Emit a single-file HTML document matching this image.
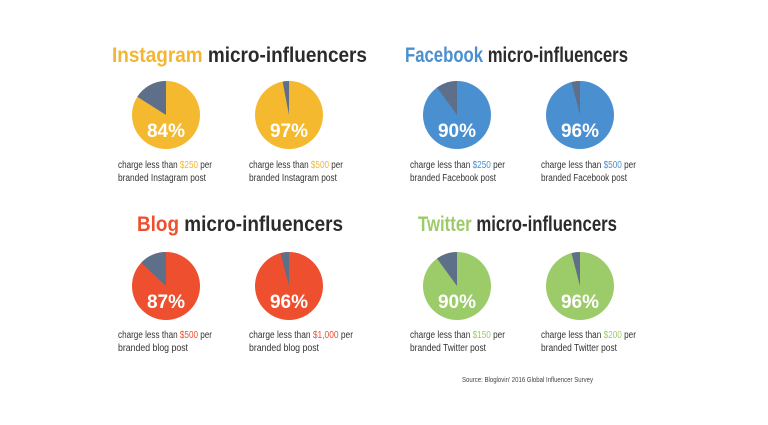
<!DOCTYPE html><html><head><style>body{margin:0;background:#fff}</style></head><body>
<svg width="768" height="420" xmlns="http://www.w3.org/2000/svg" font-family="Liberation Sans, sans-serif">
<rect width="768" height="420" fill="#fff"/>
<g font-weight="bold" font-size="21" lengthAdjust="spacingAndGlyphs">
<text x="112" y="62" textLength="255" lengthAdjust="spacingAndGlyphs"><tspan fill="#F2B632">Instagram</tspan><tspan fill="#2b2b2b"> micro-influencers</tspan></text>
<text x="405" y="62" textLength="223" lengthAdjust="spacingAndGlyphs"><tspan fill="#4A8FD0">Facebook</tspan><tspan fill="#2b2b2b"> micro-influencers</tspan></text>
<text x="137" y="231" textLength="206" lengthAdjust="spacingAndGlyphs"><tspan fill="#EE4F2E">Blog</tspan><tspan fill="#2b2b2b"> micro-influencers</tspan></text>
<text x="418" y="231" textLength="199" lengthAdjust="spacingAndGlyphs"><tspan fill="#9CCB6A">Twitter</tspan><tspan fill="#2b2b2b"> micro-influencers</tspan></text>
</g>
<g font-weight="bold" font-size="19" fill="#fff" text-anchor="middle">
<g transform="translate(166,115)"><circle r="34" fill="#F4B92E"/><path d="M0 0L0 -34A34 34 0 0 0 -28.7 -18.2Z" fill="#5E7089"/><text y="22">84%</text></g>
<g transform="translate(289,115)"><circle r="34" fill="#F4B92E"/><path d="M0 0L0 -34A34 34 0 0 0 -6.4 -33.4Z" fill="#5E7089"/><text y="22">97%</text></g>
<g transform="translate(457,115)"><circle r="34" fill="#4A8FD0"/><path d="M0 0L0 -34A34 34 0 0 0 -20 -27.5Z" fill="#5E7089"/><text y="22">90%</text></g>
<g transform="translate(580,115)"><circle r="34" fill="#4A8FD0"/><path d="M0 0L0 -34A34 34 0 0 0 -8.5 -32.9Z" fill="#5E7089"/><text y="22">96%</text></g>
<g transform="translate(166,286)"><circle r="34" fill="#EE4F2E"/><path d="M0 0L0 -34A34 34 0 0 0 -24.8 -23.3Z" fill="#5E7089"/><text y="22">87%</text></g>
<g transform="translate(289,286)"><circle r="34" fill="#EE4F2E"/><path d="M0 0L0 -34A34 34 0 0 0 -8.5 -32.9Z" fill="#5E7089"/><text y="22">96%</text></g>
<g transform="translate(457,286)"><circle r="34" fill="#9CCB6A"/><path d="M0 0L0 -34A34 34 0 0 0 -20 -27.5Z" fill="#5E7089"/><text y="22">90%</text></g>
<g transform="translate(580,286)"><circle r="34" fill="#9CCB6A"/><path d="M0 0L0 -34A34 34 0 0 0 -8.5 -32.9Z" fill="#5E7089"/><text y="22">96%</text></g>
</g>
<g font-size="10" fill="#333">
<text x="118" y="168" textLength="94" lengthAdjust="spacingAndGlyphs">charge less than <tspan fill="#F2B632">$250</tspan> per</text><text x="118" y="181" textLength="88" lengthAdjust="spacingAndGlyphs">branded Instagram post</text>
<text x="249" y="168" textLength="94" lengthAdjust="spacingAndGlyphs">charge less than <tspan fill="#F2B632">$500</tspan> per</text><text x="249" y="181" textLength="88" lengthAdjust="spacingAndGlyphs">branded Instagram post</text>
<text x="410" y="168" textLength="95" lengthAdjust="spacingAndGlyphs">charge less than <tspan fill="#4A8FD0">$250</tspan> per</text><text x="410" y="181" textLength="86" lengthAdjust="spacingAndGlyphs">branded Facebook post</text>
<text x="541" y="168" textLength="95" lengthAdjust="spacingAndGlyphs">charge less than <tspan fill="#4A8FD0">$500</tspan> per</text><text x="541" y="181" textLength="86" lengthAdjust="spacingAndGlyphs">branded Facebook post</text>
<text x="118" y="338" textLength="94" lengthAdjust="spacingAndGlyphs">charge less than <tspan fill="#EE4F2E">$500</tspan> per</text><text x="118" y="351" textLength="70" lengthAdjust="spacingAndGlyphs">branded blog post</text>
<text x="249" y="338" textLength="104" lengthAdjust="spacingAndGlyphs">charge less than <tspan fill="#EE4F2E">$1,000</tspan> per</text><text x="249" y="351" textLength="70" lengthAdjust="spacingAndGlyphs">branded blog post</text>
<text x="410" y="338" textLength="95" lengthAdjust="spacingAndGlyphs">charge less than <tspan fill="#9CCB6A">$150</tspan> per</text><text x="410" y="351" textLength="76" lengthAdjust="spacingAndGlyphs">branded Twitter post</text>
<text x="541" y="338" textLength="95" lengthAdjust="spacingAndGlyphs">charge less than <tspan fill="#9CCB6A">$200</tspan> per</text><text x="541" y="351" textLength="76" lengthAdjust="spacingAndGlyphs">branded Twitter post</text>
</g>
<text x="462" y="382" font-size="7" fill="#444" textLength="131" lengthAdjust="spacingAndGlyphs">Source: Bloglovin' 2016 Global Influencer Survey</text>
</svg></body></html>
